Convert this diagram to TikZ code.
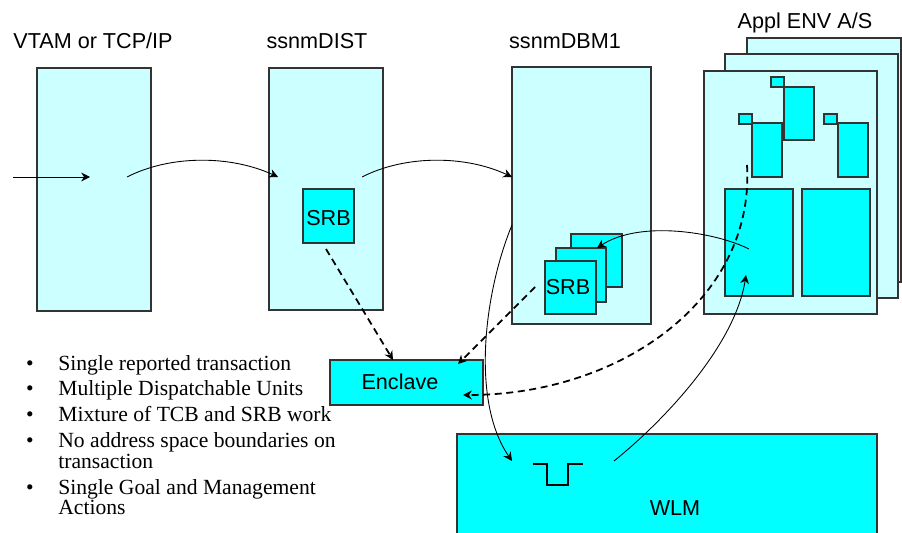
\documentclass[tikz,border=0pt]{standalone}
\usepackage{fontspec}
\setmainfont{Liberation Serif}
\setsansfont{Liberation Sans}
\usepackage{tikz}
\usepackage{xcolor}
\usetikzlibrary{arrows.meta,positioning,calc}
\definecolor{palecyan}{HTML}{CCFFFF}
\definecolor{fullcyan}{HTML}{00FFFF}
\definecolor{edge}{HTML}{333333}
\tikzset{
  spacebox/.style={draw=edge,fill=palecyan,line width=0.6pt},
  unitbox/.style={draw=edge,fill=fullcyan,line width=0.6pt},
  head/.style={font=\sffamily\fontsize{12.3}{14}\selectfont,anchor=base},
  boxlabel/.style={font=\sffamily\fontsize{12.3}{14}\selectfont},
  bulletline/.style={font=\rmfamily\fontsize{12.3}{14}\selectfont,anchor=base west,inner sep=0pt},
  flowarr/.style={-{Stealth[length=5pt,width=5pt]},line width=0.5pt},
  dasharr/.style={-{Stealth[length=5pt,width=5pt]},line width=1pt,dash pattern=on 4pt off 2.6pt}
}

\begin{document}
\begin{tikzpicture}[x=0.02cm,y=-0.02cm]
      \useasboundingbox (0,0) rectangle (902,533);
      \clip (0,0) rectangle (902,533);

      % address space columns
      \draw[spacebox] (37,68) rectangle (151,311);
      \draw[spacebox] (269,68) rectangle (383,310);
      \draw[spacebox] (512,67) rectangle (651,324);
      \node[head] (hVtam) at (93,49) {VTAM or TCP/IP};
      \node[head] (hDist) at (317,49) {ssnmDIST};
      \node[head] (hDbm) at (565,49) {ssnmDBM1};

      % application environment, three stacked spaces
      \draw[spacebox] (747,38) rectangle (901,282);
      \draw[spacebox] (725,54) rectangle (898,298);
      \draw[spacebox] (704,71) rectangle (877,314);
      \node[head] (hAppl) at (805,29) {Appl ENV A/S};
      \foreach \sx/\sy/\tx/\ty/\tw/\th in {771/77/784/87/30/53, 739/114/752/123/30/54, 824/114/838/123/30/54}{
        \draw[unitbox] (\sx,\sy) rectangle ++(13,10);
        \draw[unitbox] (\tx,\ty) rectangle ++(\tw,\th);
      }
      \draw[unitbox] (725,189) rectangle (793,296);
      \draw[unitbox] (802,189) rectangle (870,296);

      % SRBs
      \draw[unitbox] (303,189) rectangle (354,243);
      \node[boxlabel] (srbDist) at (328.5,218) {SRB};
      \draw[unitbox] (571,234) rectangle (622,287);
      \draw[unitbox] (556,248) rectangle (606,302);
      \draw[unitbox] (545,261) rectangle (596,314);
      \node[boxlabel] (srbDbm) at (568,287) {SRB};

      % enclave and WLM
      \draw[unitbox] (330,360) rectangle (483,405);
      \node[boxlabel] (enclave) at (400,382) {Enclave};
      \draw[unitbox] (457,434) rectangle (877,545);
      \node[boxlabel] (wlm) at (675,508) {WLM};
      \draw[line width=1.1pt] (533,464) -- (547,464) -- (547,485) -- (568,485) -- (568,464) -- (583,464);

      % connector ends
      \coordinate (inStart) at (13,177);
      \coordinate (vtamIn) at (90,177);
      \coordinate (vtamOut) at (127,177);
      \coordinate (distIn) at (278,177);
      \coordinate (distOut) at (362,177);
      \coordinate (dbmIn) at (512,177);
      \coordinate (dbmDown) at (512,225);
      \coordinate (wlmIn) at (512,461);
      \coordinate (wlmOut) at (614,461);
      \coordinate (applIn) at (746,275);
      \coordinate (applOut) at (749,249);
      \coordinate (stackIn) at (597,248);
      \coordinate (srbDistOut) at (326,249);
      \coordinate (enclTop) at (393,360);
      \coordinate (stackOut) at (535,287);
      \coordinate (enclCorner) at (458,364);
      \coordinate (applDash) at (747,165);
      \coordinate (enclIn) at (463,395);

      % request flow
      \draw[flowarr] (inStart) -- (vtamIn);
      \draw[flowarr] (vtamOut) .. controls (170,155) and (230,155) .. (distIn);
      \draw[flowarr] (distOut) .. controls (405,155) and (465,155) .. (dbmIn);
      \draw[flowarr] (dbmDown) .. controls (485,290) and (470,400) .. (wlmIn);
      \draw[flowarr] (wlmOut) .. controls (665,420) and (735,345) .. (applIn);
      \draw[flowarr] (applOut) .. controls (715,232) and (640,220) .. (stackIn);

      % joins to the enclave
      \draw[dasharr] (srbDistOut) -- (enclTop);
      \draw[dasharr] (stackOut) -- (enclCorner);
      \draw[dasharr] (applDash) .. controls (755,300) and (620,395) .. (enclIn);

      % notes
      \foreach \y/\txt in {370/Single reported transaction, 395/Multiple Dispatchable Units,
          421/Mixture of TCB and SRB work, 447/No address space boundaries on, 468/transaction,
          494/Single Goal and Management, 514/Actions}{
        \node[bulletline] (line\y) at (58,\y) {\txt};
      }
      \foreach \y in {370,395,421,447,494}{
        \node[bulletline,anchor=base] (dot\y) at (30,\y) {\textbullet};
      }
    \end{tikzpicture}
\end{document}
